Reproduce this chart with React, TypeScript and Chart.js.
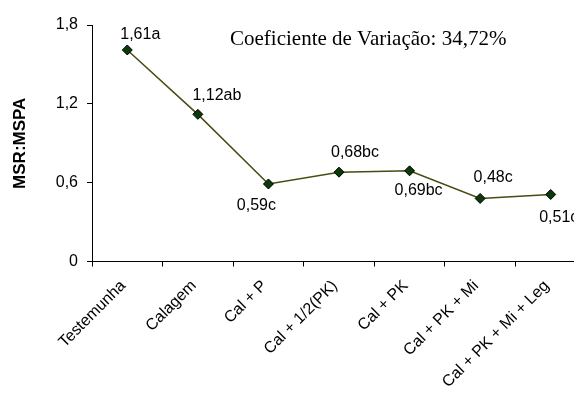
import React, { useEffect, useRef } from "react";
import { Chart, registerables } from "chart.js";

Chart.register(...registerables);

const categories = [
  "Testemunha",
  "Calagem",
  "Cal + P",
  "Cal + 1/2(PK)",
  "Cal + PK",
  "Cal + PK + Mi",
  "Cal + PK + Mi + Leg",
];
const values = [1.61, 1.12, 0.59, 0.68, 0.69, 0.48, 0.51];
const pointLabels = ["1,61a", "1,12ab", "0,59c", "0,68bc", "0,69bc", "0,48c", "0,51c"];
const yTicks = [0, 0.6, 1.2, 1.8];
const yTitle = "MSR:MSPA";
const note = "Coeficiente de Variação: 34,72%";

// label offsets (style): dx, dy relative to the point
const labelOffsets = [
  [13, -15],
  [19, -19],
  [-12, 22],
  [16, -20],
  [9, 20],
  [13, -21],
  [8, 23],
];

const SANS = "'Liberation Sans', Arial, sans-serif";

export default function App() {
  const ref = useRef<HTMLCanvasElement | null>(null);

  useEffect(() => {
    if (!ref.current) return;
    const labelPlugin = {
      id: "pointLabels",
      afterDatasetsDraw(chart: any) {
        const ctx = chart.ctx;
        const meta = chart.getDatasetMeta(0);
        ctx.save();
        ctx.fillStyle = "#000";
        ctx.font = "16px " + SANS;
        ctx.textAlign = "center";
        ctx.textBaseline = "middle";
        meta.data.forEach((pt: any, i: number) => {
          const [dx, dy] = labelOffsets[i];
          ctx.fillText(pointLabels[i], pt.x + dx, pt.y + dy);
        });
        ctx.font = "21px 'Liberation Serif', 'Times New Roman', serif";
        ctx.textAlign = "left";
        ctx.fillText(note, 230, 39);
        ctx.restore();
      },
    };

    const chart = new Chart(ref.current, {
      type: "line",
      data: {
        labels: categories,
        datasets: [
          {
            data: values,
            borderColor: "#4a4a12",
            borderWidth: 1.5,
            pointStyle: "rectRot",
            pointRadius: 5,
            pointBackgroundColor: "#0a3a0a",
            pointBorderColor: "#000",
            pointBorderWidth: 1,
            tension: 0,
          },
        ],
      },
      options: {
        animation: false,
        responsive: false,
        devicePixelRatio: 1,
        layout: { padding: { top: 25, left: 0, right: 0, bottom: 0 } },
        plugins: {
          legend: { display: false },
          tooltip: { enabled: false },
        },
        scales: {
          x: {
            type: "category",
            offset: true,
            grid: {
              offset: true,
              drawOnChartArea: false,
              drawTicks: true,
              tickLength: 5,
              color: "#000",
            },
            border: { display: true, color: "#000", width: 1 },
            ticks: {
              minRotation: 45,
              maxRotation: 45,
              color: "#000",
              font: { family: SANS, size: 16 },
              padding: 10,
              labelOffset: -4,
              autoSkip: false,
            },
            afterFit(scale: any) {
              scale.height = 138.5;
              scale.paddingLeft = 0;
              scale.paddingRight = 0;
            },
          },
          y: {
            min: 0,
            max: 1.8,
            afterBuildTicks(scale: any) {
              scale.ticks = yTicks.map((v) => ({ value: v }));
            },
            grid: {
              drawOnChartArea: false,
              drawTicks: true,
              tickLength: 5,
              color: "#000",
            },
            border: { display: true, color: "#000", width: 1 },
            ticks: {
              color: "#000",
              font: { family: SANS, size: 16 },
              padding: 9,
              callback: (v: any) => String(v).replace(".", ","),
            },
            title: {
              display: true,
              text: yTitle,
              color: "#000",
              font: { family: SANS, size: 17, weight: "bold" },
              padding: { top: 10, bottom: 0 },
            },
            afterFit(scale: any) {
              scale.width = 92;
            },
          },
        },
      },
      plugins: [labelPlugin],
    });
    return () => chart.destroy();
  }, []);

  return (
    <div
      style={{
        position: "fixed",
        left: 0,
        top: 0,
        width: 574,
        height: 400,
        overflow: "hidden",
        background: "#fff",
      }}
    >
      <canvas ref={ref} width={592} height={400} style={{ display: "block" }} />
    </div>
  );
}
